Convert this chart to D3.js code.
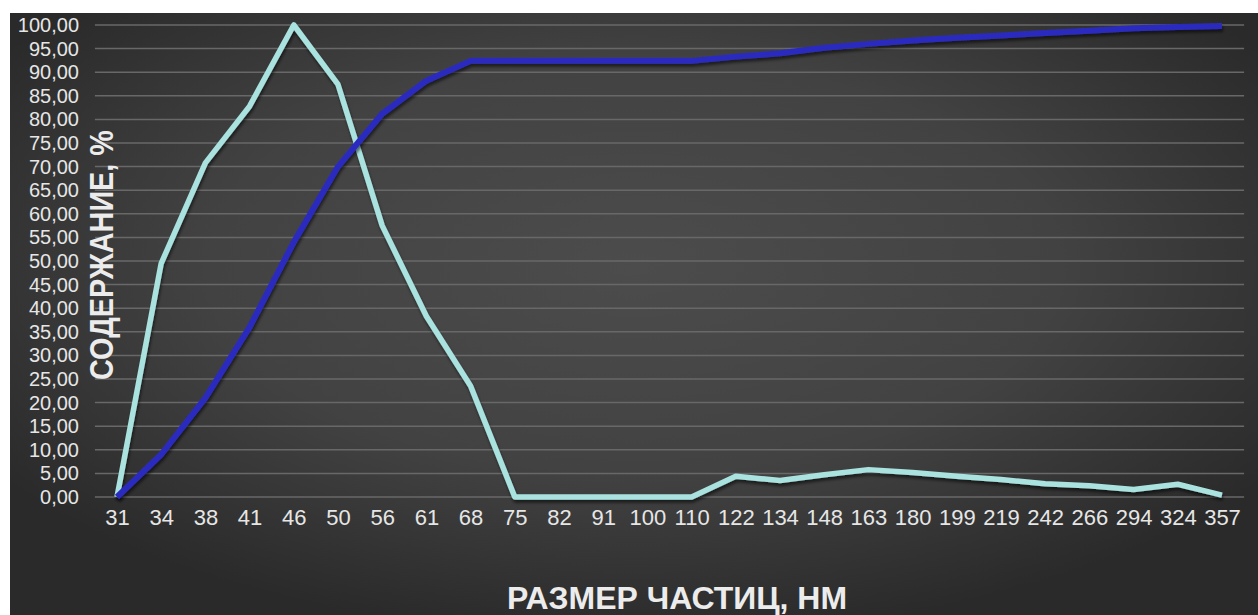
<!DOCTYPE html>
<html>
<head>
<meta charset="utf-8">
<script src="https://cdn.jsdelivr.net/npm/d3@7"></script>
<style>
  html, body { margin: 0; padding: 0; background: #fff; }
  svg { display: block; font-family: "Liberation Sans", Arial, sans-serif; }
</style>
</head>
<body>
<script>
// particle sizes, nm
var sizes = [31, 34, 38, 41, 46, 50, 56, 61, 68, 75, 82, 91, 100, 110, 122, 134, 148, 163, 180, 199, 219, 242, 266, 294, 324, 357];

// distribution (light line)
var distribution = [0, 49.5, 70.8, 82.8, 100, 87.4, 57.5, 38.3, 23.5, 0, 0, 0, 0, 0, 4.4, 3.5, 4.7, 5.8, 5.2, 4.4, 3.7, 2.8, 2.4, 1.6, 2.7, 0.4];

// cumulative (dark blue line)
var cumulative = [0, 9, 21, 36, 54, 70, 81.2, 88.2, 92.4, 92.4, 92.4, 92.4, 92.4, 92.4, 93.3, 94, 95.2, 96, 96.7, 97.3, 97.8, 98.3, 98.8, 99.3, 99.6, 99.8];

var yTicks = d3.range(0, 101, 5);

var W = 1258, H = 615;

var svg = d3.select("body").append("svg")
    .attr("width", W)
    .attr("height", H);

var defs = svg.append("defs");
var grad = defs.append("radialGradient")
    .attr("id", "bg")
    .attr("cx", "50%").attr("cy", "42%")
    .attr("r", "62%");
grad.append("stop").attr("offset", "0%").attr("stop-color", "#4c4c4c");
grad.append("stop").attr("offset", "55%").attr("stop-color", "#424242");
grad.append("stop").attr("offset", "100%").attr("stop-color", "#2a2a2a");

var shadow = defs.append("filter").attr("id", "shadow")
    .attr("x", "-5%").attr("y", "-5%").attr("width", "110%").attr("height", "110%");
shadow.append("feDropShadow")
    .attr("dx", 1).attr("dy", 3).attr("stdDeviation", 1.5)
    .attr("flood-color", "#000").attr("flood-opacity", 0.55);

// background panel (white strip left and top)
svg.append("rect")
    .attr("x", 10).attr("y", 13)
    .attr("width", W - 10).attr("height", H - 13)
    .attr("fill", "url(#bg)");

var x = d3.scalePoint().domain(sizes).range([117, 1222]);
var y = d3.scaleLinear().domain([0, 100]).range([497, 25]);

var step = x.step();
var gx0 = x(sizes[0]) - step / 2,
    gx1 = x(sizes[sizes.length - 1]) + step / 2;

// gridlines
svg.append("g").selectAll("line")
    .data(yTicks)
  .enter().append("line")
    .attr("x1", gx0).attr("x2", gx1)
    .attr("y1", function(d) { return y(d); })
    .attr("y2", function(d) { return y(d); })
    .attr("stroke", "#686868")
    .attr("stroke-width", 1.5);

// y axis labels
var fmt = d3.format(".2f");
var yAxis = d3.axisLeft(y)
    .tickValues(yTicks)
    .tickSize(0)
    .tickPadding(0)
    .tickFormat(function(d) { return fmt(d).replace(".", ","); });

svg.append("g")
    .attr("transform", "translate(79,0)")
    .call(yAxis)
    .call(function(g) { g.select(".domain").remove(); })
    .selectAll("text")
    .attr("fill", "#e6e6e6")
    .attr("font-size", "20px")
    .attr("font-family", "Liberation Sans, Arial, sans-serif");

// x axis labels
var xAxis = d3.axisBottom(x).tickSize(0).tickPadding(0);
svg.append("g")
    .attr("transform", "translate(0,509)")
    .call(xAxis)
    .call(function(g) { g.select(".domain").remove(); })
    .selectAll("text")
    .attr("fill", "#e6e6e6")
    .attr("font-size", "22px")
    .attr("font-family", "Liberation Sans, Arial, sans-serif");

// lines
var line = function(vals) {
  return d3.line()
    .x(function(d, i) { return x(sizes[i]); })
    .y(function(d) { return y(d); })(vals);
};

svg.append("path")
    .attr("d", line(distribution))
    .attr("fill", "none")
    .attr("stroke", "#a9e2df")
    .attr("stroke-width", 5.5)
    .attr("stroke-linejoin", "round")
    .attr("filter", "url(#shadow)");

svg.append("path")
    .attr("d", line(cumulative))
    .attr("fill", "none")
    .attr("stroke", "#2c2cbf")
    .attr("stroke-width", 6)
    .attr("stroke-linejoin", "round")
    .attr("filter", "url(#shadow)");

// axis titles
svg.append("text")
    .attr("transform", "translate(113,255) rotate(-90)")
    .attr("text-anchor", "middle")
    .attr("fill", "#ececec")
    .attr("font-weight", "bold")
    .attr("font-size", "34px")
    .attr("textLength", 250)
    .attr("lengthAdjust", "spacingAndGlyphs")
    .text("СОДЕРЖАНИЕ, %");

svg.append("text")
    .attr("x", 677)
    .attr("y", 609)
    .attr("text-anchor", "middle")
    .attr("fill", "#ececec")
    .attr("font-weight", "bold")
    .attr("font-size", "31px")
    .attr("textLength", 340)
    .attr("lengthAdjust", "spacingAndGlyphs")
    .text("РАЗМЕР ЧАСТИЦ, НМ");
</script>
</body>
</html>
